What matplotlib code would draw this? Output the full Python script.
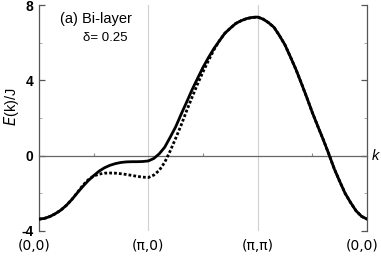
import matplotlib
matplotlib.use("Agg")
import matplotlib.pyplot as plt
import matplotlib.transforms as mtransforms

# path position: (0,0) -> (pi,0) -> (pi,pi) -> (0,0)
k_path = [0.00, 0.05, 0.10, 0.15, 0.20, 0.25, 0.30, 0.35, 0.40, 0.45,
          0.50, 0.55, 0.60, 0.65, 0.70, 0.75, 0.80, 0.85, 0.90, 0.95,
          1.00, 1.05, 1.10, 1.15, 1.20, 1.25, 1.30, 1.35, 1.40, 1.45,
          1.50, 1.55, 1.60, 1.65, 1.70, 1.75, 1.80, 1.85, 1.90, 1.95,
          2.00, 2.05, 2.10, 2.15, 2.20, 2.25, 2.30, 2.35, 2.40, 2.45,
          2.50, 2.55, 2.60, 2.65, 2.70, 2.75, 2.80, 2.85, 2.90, 2.95,
          3.00]

# E(k)/J, solid band
E_solid = [-3.37, -3.33, -3.23, -3.08, -2.89, -2.64, -2.33, -1.98, -1.64, -1.33,
           -1.06, -0.82, -0.64, -0.51, -0.42, -0.36, -0.33, -0.32, -0.32, -0.31,
           -0.28, -0.15, 0.10, 0.45, 0.98, 1.53, 2.20, 2.84, 3.50, 4.10,
           4.69, 5.21, 5.69, 6.10, 6.50, 6.77, 7.02, 7.17, 7.28, 7.34,
           7.36, 7.25, 7.06, 6.81, 6.37, 5.88, 5.24, 4.58, 3.84, 3.08,
           2.29, 1.56, 0.85, 0.10, -0.69, -1.36, -2.00, -2.49, -2.93, -3.22,
           -3.37]

# E(k)/J, dotted band
E_dotted = [-3.37, -3.33, -3.23, -3.08, -2.89, -2.64, -2.33, -1.96, -1.58, -1.28,
            -1.08, -0.98, -0.93, -0.92, -0.93, -0.96, -1.00, -1.05, -1.10, -1.14,
            -1.16, -1.03, -0.78, -0.35, 0.25, 0.92, 1.62, 2.38, 3.10, 3.80,
            4.45, 5.05, 5.62, 6.10, 6.50, 6.77, 7.02, 7.17, 7.28, 7.34,
            7.36, 7.25, 7.06, 6.81, 6.37, 5.88, 5.24, 4.58, 3.84, 3.08,
            2.29, 1.56, 0.85, 0.10, -0.69, -1.36, -2.00, -2.49, -2.93, -3.22,
            -3.37]

xtick_pos = [0, 1, 2, 3]
xtick_labels = ["(0,0)", "(\u03c0,0)", "(\u03c0,\u03c0)", "(0,0)"]
ytick_pos = [-4, 0, 4, 8]

plt.rcParams["font.family"] = ["Liberation Sans", "DejaVu Sans"]

fig = plt.figure(figsize=(3.81, 2.58), dpi=100)
ax = fig.add_axes([39 / 381, 1 - 231 / 258, 328 / 381, 226 / 258])

ax.plot(k_path, E_dotted, color="black", lw=2.0,
        linestyle=(0, (1, 0.75)), dash_capstyle="butt", zorder=3)
ax.plot(k_path, E_solid, color="black", lw=2.0, zorder=4)

ax.set_xlim(0, 3)
ax.set_ylim(-4, 8)

# spines: left/right frame, top spine reused as the E=0 line
ax.spines["bottom"].set_visible(False)
for side in ["left", "right"]:
    ax.spines[side].set_color("#555555")
    ax.spines[side].set_linewidth(0.9)
ax.spines["top"].set_position(("data", 0))
ax.spines["top"].set_color("#666666")
ax.spines["top"].set_linewidth(0.9)

ax.set_xticks(xtick_pos)
ax.set_xticklabels(xtick_labels, family=["DejaVu Sans"], fontsize=10)
ax.set_xticks([0.5, 1.5, 2.5], minor=True)
ax.tick_params(axis="x", which="major", length=0, pad=6)
ax.tick_params(axis="x", which="minor", bottom=False, top=True,
               direction="out", length=2.5, color="#888888", width=0.8)
ax.grid(axis="x", which="major", color="#d0d0d0", lw=0.8)

ax.set_yticks(ytick_pos)
ax.set_yticklabels([str(v) for v in ytick_pos], fontweight="bold", fontsize=10)
ax.set_yticks([-2, 2, 6], minor=True)
ax.yaxis.set_ticks_position("both")
ax.tick_params(axis="y", which="major", direction="in", length=4,
               color="#555555", width=0.9, pad=4)
ax.tick_params(axis="y", which="minor", direction="in", length=2,
               color="#aaaaaa", width=0.7)

# shift the two end labels a little left, as in the reference
labels = ax.get_xticklabels()
for lab in (labels[0], labels[-1]):
    lab.set_transform(lab.get_transform() +
                      mtransforms.ScaledTranslation(-5 / 100, 0, fig.dpi_scale_trans))

ax.set_ylabel(r"$E$(k)/J", fontsize=10.5)
ax.yaxis.set_label_coords(-0.055, 0.55)

ax.text(60 / 381, 1 - 19 / 258, "(a) Bi-layer", transform=fig.transFigure,
        fontsize=10.5, va="center", ha="left")
ax.text(83 / 381, 1 - 38 / 258, "\u03b4= 0.25", transform=fig.transFigure,
        fontsize=9.5, va="center", ha="left")
ax.text(372 / 381, 1 - 156 / 258, "k", transform=fig.transFigure,
        fontsize=10.5, style="italic", va="center", ha="left")

fig.savefig("out.png", dpi=100)
